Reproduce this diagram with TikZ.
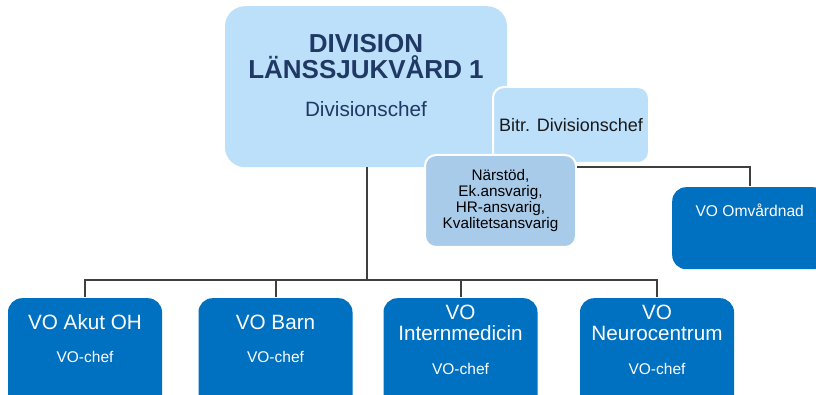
\documentclass[tikz,border=0pt]{standalone}
\usepackage{fontspec}
\setmainfont{Liberation Sans}
\usepackage{tikz}
\usetikzlibrary{positioning}
\definecolor{lightblue}{HTML}{BDE0FA}
\definecolor{midblue}{HTML}{A9CBEA}
\definecolor{voblue}{HTML}{0070C0}
\definecolor{navy}{HTML}{1F3864}
\definecolor{linegray}{HTML}{3F3F3F}
\begin{document}
\begin{tikzpicture}[
    x=1pt, y=-1pt,
    topbox/.style={fill=lightblue, rounded corners=20pt, align=center, inner sep=0pt},
    staffbox/.style={draw=white, line width=2pt, rounded corners=11pt, align=center, inner sep=0pt},
    vobox/.style={fill=voblue, text=white, rounded corners=14pt, align=center, inner sep=0pt,
        anchor=north, minimum width=154pt, font=\fontsize{20.7}{21.4}\selectfont},
    link/.style={draw=linegray, line width=2pt}
]
\useasboundingbox (0,0) rectangle (816,395);
\clip (0,0) rectangle (816,395);
\node[topbox, anchor=north, minimum width=282pt, text=navy, text height=110.7pt, text depth=50.3pt,
    font=\fontsize{26}{26.4}\selectfont\bfseries] (div) at (366,6)
    {DIVISION\\LÄNSSJUKVÅRD 1\\[11.6pt]{\fontsize{20.7}{24}\selectfont\mdseries Divisionschef}};
\node[staffbox, fill=lightblue, minimum width=156pt, minimum height=76pt, text=black!90,
    font=\fontsize{18}{21}\selectfont] (bitr) at (571,125) {Bitr. Divisionschef};
\node[staffbox, fill=midblue, minimum width=151pt, minimum height=92pt, text=black,
    font=\fontsize{15.3}{16}\selectfont] (stod) at (500.5,201)
    {Närstöd,\\Ek.ansvarig,\\HR-ansvarig,\\Kvalitetsansvarig};
\node[vobox, anchor=north west, minimum width=155pt, text height=29pt, text depth=53pt,
    font=\fontsize{15.6}{18}\selectfont] (omv) at (672,187) {VO Omvårdnad};
\node[vobox, text height=64.7pt, text depth=47.3pt] (akut) at (85,298)
    {VO Akut OH\\[12pt]{\fontsize{15.5}{18}\selectfont VO-chef}};
\node[vobox, text height=64.7pt, text depth=47.3pt] (barn) at (275.5,298)
    {VO Barn\\[12pt]{\fontsize{15.5}{18}\selectfont VO-chef}};
\node[vobox, text height=76pt, text depth=36pt] (intern) at (460.5,298)
    {VO\\Internmedicin\\[12pt]{\fontsize{15.5}{18}\selectfont VO-chef}};
\node[vobox, text height=76pt, text depth=36pt] (neuro) at (657,298)
    {VO\\Neurocentrum\\[12pt]{\fontsize{15.5}{18}\selectfont VO-chef}};
\coordinate (hub) at (367,280);
\draw[link] (div.south -| hub) -- (hub);
\foreach \n in {akut,barn,intern,neuro}
    \draw[link] (hub) -| ([yshift=1pt]\n.north);
\draw[link] ([yshift=-13pt]stod.north east) -| ([yshift=1pt]omv.north);
\end{tikzpicture}
\end{document}
